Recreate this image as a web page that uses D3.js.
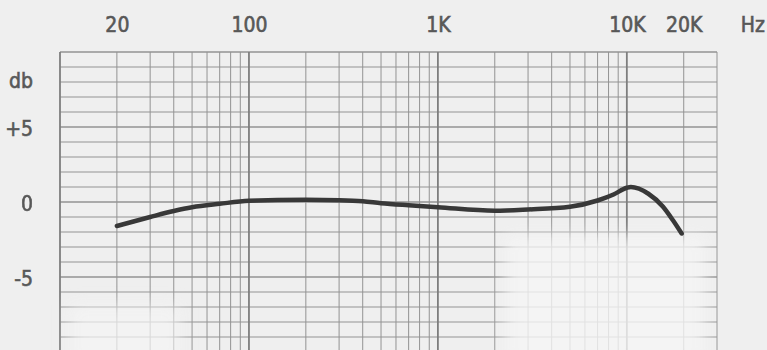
<!DOCTYPE html>
<html>
<head>
<meta charset="utf-8">
<script src="https://cdn.jsdelivr.net/npm/d3@7"></script>
<style>
  body { margin: 0; background: #efefef; }
  svg { display: block; }
  .lbl text, text.lbl { font-family: "DejaVu Sans Condensed", "DejaVu Sans", sans-serif; font-size: 21px; fill: #585858; stroke: #585858; stroke-width: 0.6px; }
</style>
</head>
<body>
<div id="chart"></div>
<script>
// chart size
let width = 767,
    height = 350;

// frequency response
const freqs = [20, 30, 40, 50, 70, 100, 200, 300, 400, 500, 700, 1000, 2000, 3000, 5000, 7000, 8500, 10000, 10500, 13000, 15500, 17500, 19500];
const dbVals = [-1.6, -1.0, -0.6, -0.35, -0.12, 0.08, 0.15, 0.12, 0.05, -0.08, -0.22, -0.35, -0.58, -0.5, -0.32, 0.1, 0.5, 0.95, 1.0, 0.55, -0.3, -1.2, -2.1];

// tick labels
const freqTicks = [20, 100, 1000, 10000, 20000];
const freqLabels = ["20", "100", "1K", "10K", "20K"];
const dbTicks = [5, 0, -5];
const dbLabels = ["+5", "0", "-5"];

// grid lines
const decadeLines = [10, 100, 1000, 10000];
const minorLines = [20, 30, 40, 50, 60, 70, 80, 90,
                    200, 300, 400, 500, 600, 700, 800, 900,
                    2000, 3000, 4000, 5000, 6000, 7000, 8000, 9000,
                    20000, 30000];
const dbLines = d3.range(-10, 11);

let margin = {left: 60, right: 50, top: 52};

let svg = d3.select("#chart")
    .append("svg")
    .attr("width", width)
    .attr("height", height);

let x = d3.scaleLog()
    .domain([10, 30000])
    .range([margin.left, width - margin.right]);

let y = d3.scaleLinear()
    .domain([-10, 10])
    .range([352, margin.top]);

// paper background
svg.append("rect")
    .attr("width", width).attr("height", height)
    .attr("fill", "#efefef");

let grid = svg.append("g");

grid.selectAll(".h").data(dbLines).enter()
    .append("line")
    .attr("x1", x(10)).attr("x2", x(30000))
    .attr("y1", d => y(d)).attr("y2", d => y(d))
    .attr("stroke", "#939393")
    .attr("stroke-width", d => (d % 5 === 0) ? 1.4 : 1);

grid.selectAll(".v").data(minorLines).enter()
    .append("line")
    .attr("x1", d => x(d)).attr("x2", d => x(d))
    .attr("y1", y(10)).attr("y2", y(-10))
    .attr("stroke", "#939393")
    .attr("stroke-width", 1);

grid.selectAll(".d").data(decadeLines).enter()
    .append("line")
    .attr("x1", d => x(d)).attr("x2", d => x(d))
    .attr("y1", y(10)).attr("y2", y(-10))
    .attr("stroke", "#7e7e7e")
    .attr("stroke-width", 1.8);

// faded patches like the scanned original
let defs = svg.append("defs");
defs.append("filter").attr("id", "blur")
    .attr("x", "-50%").attr("y", "-50%").attr("width", "200%").attr("height", "200%")
    .append("feGaussianBlur").attr("stdDeviation", 8);
let fade = svg.append("g").attr("filter", "url(#blur)").attr("fill", "#f5f5f5");
fade.append("rect").attr("x", 505).attr("y", 235).attr("width", 200).attr("height", 130).attr("opacity", 0.8);
fade.append("rect").attr("x", 70).attr("y", 305).attr("width", 110).attr("height", 60).attr("opacity", 0.7);

// response curve
let line = d3.line()
    .x((d, i) => x(freqs[i]))
    .y(d => y(d))
    .curve(d3.curveMonotoneX);

svg.append("path")
    .datum(dbVals)
    .attr("d", line)
    .attr("fill", "none")
    .attr("stroke", "#383838")
    .attr("stroke-width", 4.5)
    .attr("stroke-linecap", "round");

// top frequency labels
let topAxis = svg.append("g")
    .attr("class", "lbl")
    .attr("transform", "translate(0, 32)")
    .call(d3.axisTop(x).tickValues(freqTicks).tickSize(0).tickPadding(0)
        .tickFormat((d, i) => freqLabels[i]));
topAxis.select(".domain").remove();
topAxis.selectAll("text").attr("dy", 0);

svg.append("text")
    .attr("class", "lbl")
    .attr("x", 765).attr("y", 32)
    .attr("text-anchor", "end")
    .text("Hz");

// left db labels
let leftAxis = svg.append("g")
    .attr("class", "lbl")
    .attr("transform", "translate(33, 0)")
    .call(d3.axisLeft(y).tickValues(dbTicks).tickSize(0).tickPadding(0)
        .tickFormat((d, i) => dbLabels[i]));
leftAxis.select(".domain").remove();
leftAxis.selectAll("text").attr("dy", "0.42em");

svg.append("text")
    .attr("class", "lbl")
    .attr("x", 33).attr("y", 88)
    .attr("text-anchor", "end")
    .text("db");
</script>
</body>
</html>
